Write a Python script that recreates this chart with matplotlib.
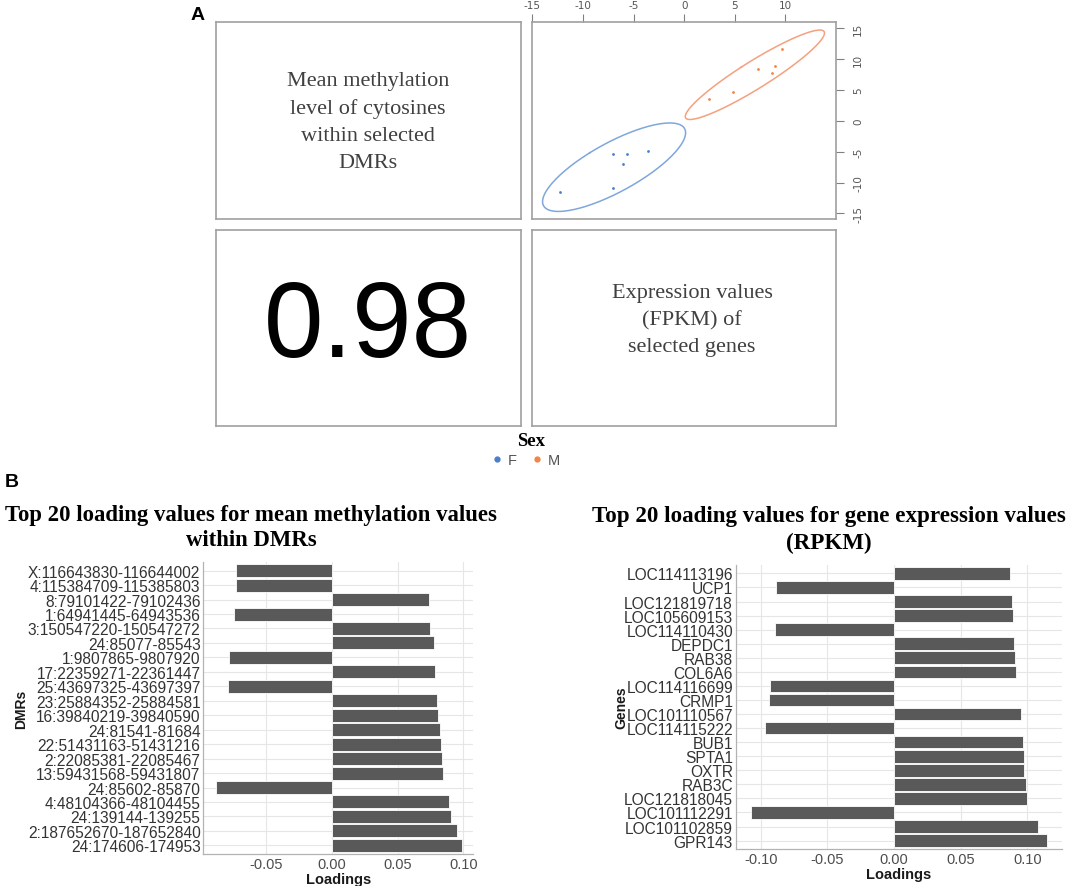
import numpy as np
import matplotlib
matplotlib.use("Agg")
import matplotlib.pyplot as plt

plt.rcParams["axes.unicode_minus"] = False

W, H = 1072, 887

# ---------------- data ----------------
f_x = [-12.24, -6.98, -5.69, -6.05, -3.59, -6.98]
f_y = [-11.45, -5.45, -5.45, -6.97, -4.86, -10.90]
m_x = [2.43, 4.87, 7.27, 8.66, 9.02, 9.67]
m_y = [3.47, 4.70, 8.33, 7.68, 8.92, 11.62]
corr_text = "0.98"
sex_levels = ["F", "M"]

dmr_labels = ["X:116643830-116644002", "4:115384709-115385803", "8:79101422-79102436",
              "1:64941445-64943536", "3:150547220-150547272", "24:85077-85543",
              "1:9807865-9807920", "17:22359271-22361447", "25:43697325-43697397",
              "23:25884352-25884581", "16:39840219-39840590", "24:81541-81684",
              "22:51431163-51431216", "2:22085381-22085467", "13:59431568-59431807",
              "24:85602-85870", "4:48104366-48104455", "24:139144-139255",
              "2:187652670-187652840", "24:174606-174953"]
dmr_values = [-0.0729, -0.0729, 0.0742, -0.0742, 0.0747, 0.0777, -0.0780, 0.0785,
              -0.0787, 0.0803, 0.0810, 0.0823, 0.0828, 0.0835, 0.0843, -0.0881,
              0.0894, 0.0904, 0.0952, 0.0987]

gene_labels = ["LOC114113196", "UCP1", "LOC121819718", "LOC105609153", "LOC114110430",
               "DEPDC1", "RAB38", "COL6A6", "LOC114116699", "CRMP1", "LOC101110567",
               "LOC114115222", "BUB1", "SPTA1", "OXTR", "RAB3C", "LOC121818045",
               "LOC101112291", "LOC101102859", "GPR143"]
gene_values = [0.0870, -0.0883, 0.0888, 0.0895, -0.0895, 0.0903, 0.0908, 0.0915,
               -0.0933, -0.0935, 0.0955, -0.0968, 0.0970, 0.0978, 0.0978, 0.0990,
               0.1000, -0.1075, 0.1083, 0.1145]
dmr_ticks = [-0.05, 0.00, 0.05, 0.10]
gene_ticks = [-0.10, -0.05, 0.00, 0.05, 0.10]

# ---------------- figure ----------------
fig = plt.figure(figsize=(W / 100, H / 100), dpi=100)
fig.patch.set_facecolor("white")


def ax_px(x0, y0, x1, y1, **kw):
    return fig.add_axes([x0 / W, 1 - y1 / H, (x1 - x0) / W, (y1 - y0) / H], **kw)


box_col = "#a0a0a0"
serif = ["Liberation Serif", "DejaVu Serif"]
sans = ["Liberation Sans", "DejaVu Sans"]


def empty_box(ax):
    ax.set_xticks([])
    ax.set_yticks([])
    for s in ax.spines.values():
        s.set_color(box_col)
        s.set_linewidth(1.2)


# Panel A boxes
a_tl = ax_px(215.7, 23.3, 520.7, 220)
empty_box(a_tl)
a_tl.text(0.5, 1 - (122.5 - 23.3) / (220 - 23.3),
          "Mean methylation\nlevel of cytosines\nwithin selected\nDMRs",
          ha="center", va="center", transform=a_tl.transAxes, family=serif,
          fontsize=16, color="#404040", linespacing=1.55)

a_bl = ax_px(215.7, 230.7, 520.7, 427.3)
empty_box(a_bl)
a_bl.text(0.5, 0.5, corr_text, ha="center", va="center", transform=a_bl.transAxes,
          family=sans, fontsize=77, color="black")

a_br = ax_px(531.7, 230.7, 836, 427.3)
empty_box(a_br)
a_br.text((692 - 531.7) / (836 - 531.7), 1 - (320.5 - 230.7) / (427.3 - 230.7),
          "Expression values\n(FPKM) of\nselected genes",
          ha="center", va="center", transform=a_br.transAxes, family=serif,
          fontsize=16, color="#404040", linespacing=1.55)

# scatter panel
a_tr = ax_px(531.7, 23.3, 836, 220)
for s in a_tr.spines.values():
    s.set_color(box_col)
    s.set_linewidth(1.2)
a_tr.set_xlim(-15.06, 15.0)
a_tr.set_ylim(-15.9, 15.95)

pt_cols = {"F": "#4a7fc8", "M": "#f0844c"}
el_cols = {"F": "#7fa7dc", "M": "#f5a07e"}
groups = {"F": (f_x, f_y), "M": (m_x, m_y)}
chi2_95 = 5.991
t = np.linspace(0, 2 * np.pi, 200)
for g in sex_levels:
    gx, gy = np.array(groups[g][0]), np.array(groups[g][1])
    a_tr.scatter(gx, gy, s=4, color=pt_cols[g], zorder=3, linewidths=0)
    cov = np.cov(gx, gy)
    vals, vecs = np.linalg.eigh(cov)
    circ = np.vstack([np.cos(t), np.sin(t)]) * np.sqrt(vals[:, None] * chi2_95)
    ell = vecs @ circ
    a_tr.plot(gx.mean() + ell[0], gy.mean() + ell[1], color=el_cols[g], lw=1.1)

a_tr.xaxis.tick_top()
a_tr.yaxis.tick_right()
a_tr.set_xticks([-15, -10, -5, 0, 5, 10])
a_tr.set_yticks([-15, -10, -5, 0, 5, 10, 15])
a_tr.tick_params(axis="both", direction="out", length=6, width=0.8, colors="#808080",
                 labelsize=7.5, labelcolor="#555555", pad=3)
a_tr.tick_params(axis="y", pad=10)
for lab in a_tr.get_yticklabels():
    lab.set_rotation(90)
    lab.set_va("center")
    lab.set_ha("center")

# ---------------- Panel B bar charts ----------------
bar_col = "#595959"
grid_col = "#e6e6e6"
axis_col = "#b3b3b3"


def bar_chart(ax, labels, values, xlim, ticks, ylab, ylabpad):
    n = len(labels)
    ypos = np.arange(n)[::-1]
    ax.barh(ypos, values, height=0.9, color=bar_col, edgecolor="white",
            linewidth=0.6, zorder=3)
    ax.set_ylim(-0.6, n - 0.4)
    ax.set_xlim(*xlim)
    ax.set_yticks(ypos)
    ax.set_yticklabels(labels, family=sans, fontsize=11.2, color="#333333")
    ax.set_xticks(ticks)
    ax.set_xticklabels(["%.2f" % v for v in ticks], family=sans, fontsize=10.5,
                       color="#4d4d4d")
    ax.grid(True, color=grid_col, lw=0.8, zorder=0)
    ax.set_axisbelow(True)
    for s in ["top", "right"]:
        ax.spines[s].set_visible(False)
    for s in ["left", "bottom"]:
        ax.spines[s].set_color(axis_col)
        ax.spines[s].set_linewidth(0.9)
    ax.tick_params(axis="both", length=0, pad=2)
    ax.set_xlabel("Loadings", family=sans, fontsize=10.5, fontweight="bold",
                  color="#1a1a1a", labelpad=1)
    ax.set_ylabel(ylab, family=sans, fontsize=10, fontweight="bold",
                  color="#1a1a1a", labelpad=ylabpad)


b_l = ax_px(203.3, 563, 473.3, 855)
bar_chart(b_l, dmr_labels, dmr_values, (-0.0976, 0.1076), dmr_ticks, "DMRs", 0)

b_r = ax_px(735.7, 566, 1061.7, 850)
bar_chart(b_r, gene_labels, gene_values, (-0.1187, 0.1258), gene_ticks, "Genes", -3)

# ---------------- overlay texts ----------------
ov = fig.add_axes([0, 0, 1, 1], zorder=10)
ov.set_xlim(0, W)
ov.set_ylim(H, 0)
ov.axis("off")
ov.patch.set_alpha(0)

ov.text(198, 16, "A", family=sans, fontsize=14, fontweight="bold", ha="center", va="center")
ov.text(12, 483, "B", family=sans, fontsize=14, fontweight="bold", ha="center", va="center")

ov.text(531, 442, "Sex", family=serif, fontsize=13.5, fontweight="bold", ha="center",
        va="center", color="black")
leg_x = {"F": (497, 508), "M": (537, 548)}
for g in sex_levels:
    dx, tx = leg_x[g]
    ov.plot([dx], [460], marker="o", ms=3.5, color=pt_cols[g], ls="none")
    ov.text(tx, 461, g, family=sans, fontsize=10.5, color="#555555", ha="left", va="center")

ov.text(251, 528, "Top 20 loading values for mean methylation values\nwithin DMRs",
        family=serif, fontsize=16.4, fontweight="bold", ha="center", va="center",
        linespacing=1.3)
ov.text(829, 530, "Top 20 loading values for gene expression values\n(RPKM)",
        family=serif, fontsize=16.6, fontweight="bold", ha="center", va="center",
        linespacing=1.35)

fig.savefig("out.png", dpi=100, facecolor="white")
